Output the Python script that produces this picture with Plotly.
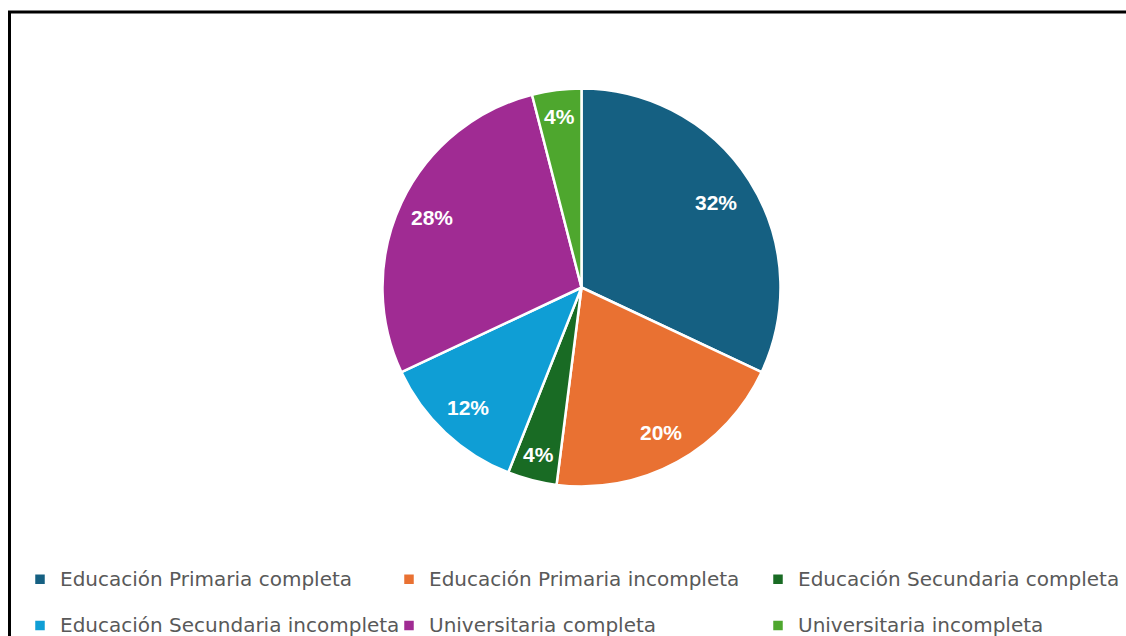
import math
import plotly.graph_objects as go

categories = [
    "Educación Primaria completa",
    "Educación Primaria incompleta",
    "Educación Secundaria completa",
    "Educación Secundaria incompleta",
    "Universitaria completa",
    "Universitaria incompleta",
]
values = [32, 20, 4, 12, 28, 4]
colors = ["#156082", "#E97132", "#196B24", "#0F9ED5", "#A02B93", "#4EA72E"]

W, H = 1126, 636
cx, cy, r = 581.5, 287.5, 199

# legend text: first row gets an extra empty line for Excel-like row spacing
legend_names = [
    f'<span style="font-size:20px">{c}</span>' + ("<br> " if i < 3 else "")
    for i, c in enumerate(categories)
]

fig = go.Figure(go.Pie(
    labels=legend_names,
    values=values,
    sort=False,
    direction="clockwise",
    rotation=0,
    marker=dict(colors=colors, line=dict(color="white", width=2.5)),
    textinfo="none",
    domain=dict(x=[(cx - r) / W, (cx + r) / W], y=[(H - cy - r) / H, (H - cy + r) / H]),
    hovertext=categories,
    hoverinfo="text+percent",
))

# data labels placed along each slice's mid-angle
total = sum(values)
annotations = []
cum = 0
for v in values:
    mid = (cum + v / 2) / total * 2 * math.pi
    cum += v
    share = v / total
    d = r * (0.865 if share < 0.05 else (0.80 if share > 0.3 else 0.83))
    px = cx + d * math.sin(mid)
    py = cy - d * math.cos(mid)
    annotations.append(dict(
        x=px / W, y=1 - py / H, xref="paper", yref="paper",
        text=f"{round(share * 100)}%", showarrow=False,
        font=dict(family="Liberation Sans", size=21, color="white", weight="bold"),
        xanchor="center", yanchor="middle",
    ))

fig.update_layout(
    width=W, height=H,
    margin=dict(l=0, r=0, t=0, b=0, autoexpand=False),
    paper_bgcolor="white",
    plot_bgcolor="white",
    showlegend=True,
    legend=dict(
        orientation="h",
        x=20 / W, xanchor="left",
        y=1 - 562 / H, yanchor="top",
        valign="top",
        font=dict(family="DejaVu Sans", size=16.6, color="#595959"),
        entrywidth=324, entrywidthmode="pixels",
        itemclick=False, itemdoubleclick=False,
    ),
    annotations=annotations,
    shapes=[dict(
        type="rect", xref="paper", yref="paper",
        x0=9.5 / W, x1=1.2, y0=-0.2, y1=1 - 12 / H,
        line=dict(color="black", width=3), fillcolor="rgba(0,0,0,0)",
    )],
)

fig.write_html(
    "out.html",
    config={"displayModeBar": False},
    post_script="document.body.style.margin='0px';",
)
